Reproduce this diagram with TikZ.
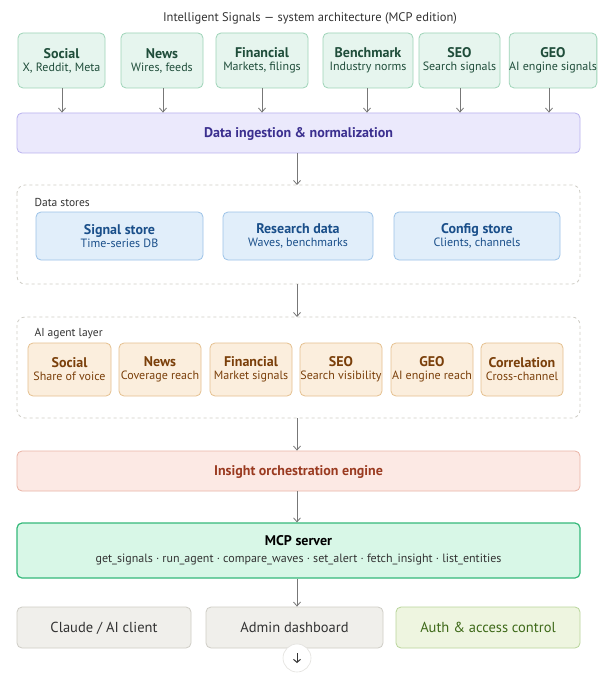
\documentclass[tikz,border=0pt]{standalone}
\usepackage{fontspec}
\setmainfont{PT Sans}
\usetikzlibrary{arrows.meta}
\definecolor{gF}{HTML}{E6F5EE}\definecolor{gS}{HTML}{9ED4B8}\definecolor{gT}{HTML}{1F4D3A}
\definecolor{pF}{HTML}{EBE9FC}\definecolor{pS}{HTML}{B9B2EE}\definecolor{pT}{HTML}{3B2F8F}
\definecolor{bF}{HTML}{E1EEFA}\definecolor{bS}{HTML}{9CC3E8}\definecolor{bT}{HTML}{1A4F8A}
\definecolor{oF}{HTML}{FBEEDD}\definecolor{oS}{HTML}{E5C08F}\definecolor{oT}{HTML}{7A3F0A}
\definecolor{rF}{HTML}{FCE9E4}\definecolor{rS}{HTML}{EAB4A6}\definecolor{rT}{HTML}{9A3A20}
\definecolor{mF}{HTML}{D8F7E7}\definecolor{mS}{HTML}{35B97A}
\definecolor{kF}{HTML}{F0EFEB}\definecolor{kS}{HTML}{CFCDC6}\definecolor{kT}{HTML}{333333}
\definecolor{aF}{HTML}{EEF5E0}\definecolor{aS}{HTML}{B9D59A}\definecolor{aT}{HTML}{3F6A1A}
\definecolor{arr}{HTML}{777777}
\newcommand{\Ttl}{\bfseries\fontsize{14}{16}\selectfont}
\newcommand{\Sub}{\mdseries\fontsize{12}{14}\selectfont}
\tikzset{
 box/.style={draw, rounded corners=5pt, line width=0.8pt, align=center, inner sep=0pt},
 ar/.style={draw=arr, line width=0.8pt, -{Straight Barb[length=4pt,width=7pt]}},
 dashbox/.style={draw=kS, dashed, rounded corners=8pt, line width=0.8pt},
 one/.style={text depth=0pt, text height=9pt},
}
\newcommand{\bx}[8]{% name x1 y1 x2 y2 style title subtitle
 \node[box,#6, minimum width={#4-#2}, minimum height={#5-#3}] (#1) at ({(#2+#4)/2},{(#3+#5)/2}) {#7#8};}
\begin{document}
\begin{tikzpicture}[x=1pt,y=-1pt]
\useasboundingbox[fill=white] (0,0) rectangle (607,676);
\node[font=\fontsize{12.5}{14}\selectfont, text=kT] (title) at (310,18) {Intelligent Signals — system architecture (MCP edition)};
% sources
\tikzset{src/.style={fill=gF,draw=gS,text=gT}}
\bx{s1}{18}{33}{105}{88}{src}{{\Ttl Social}\\[1pt]}{{\Sub X, Reddit, Meta}}
\bx{s2}{121}{33}{203}{88}{src}{{\Ttl News}\\[1pt]}{{\Sub Wires, feeds}}
\bx{s3}{216}{33}{308}{88}{src}{{\Ttl Financial}\\[1pt]}{{\Sub Markets, filings}}
\bx{s4}{323}{33}{413}{88}{src}{{\Ttl Benchmark}\\[1pt]}{{\Sub Industry norms}}
\bx{s5}{419}{33}{500}{88}{src}{{\Ttl SEO}\\[1pt]}{{\Sub Search signals}}
\bx{s6}{511}{33}{595}{88}{src}{{\Ttl GEO}\\[1pt]}{{\Sub AI engine signals}}
\bx{ing}{17}{113}{580}{153}{one,fill=pF,draw=pS,text=pT}{{\Ttl Data ingestion \& normalization}}{}
\foreach \s/\x in {s1/62,s2/163,s3/262,s4/367,s5/460,s6/549}
  \draw[ar] (\s.south -| \x,0) -- (ing.north -| \x,0);
% data stores
\draw[dashbox] (17,185) rectangle (580,284);
\node[anchor=west,font=\fontsize{11.5}{13}\selectfont,text=kT] (dsl) at (31,202) {Data stores};
\coordinate (dsTop) at (297,185); \coordinate (dsBot) at (297,284);
\tikzset{st/.style={fill=bF,draw=bS,text=bT}}
\bx{d1}{36}{212}{203}{260}{st}{{\Ttl Signal store}\\[1pt]}{{\Sub Time-series DB}}
\bx{d2}{223}{212}{373}{260}{st}{{\Ttl Research data}\\[1pt]}{{\Sub Waves, benchmarks}}
\bx{d3}{394}{212}{560}{260}{st}{{\Ttl Config store}\\[1pt]}{{\Sub Clients, channels}}
\draw[ar] (ing.south -| dsTop) -- (dsTop);
% agent layer
\draw[dashbox] (17,317) rectangle (580,418);
\node[anchor=west,font=\fontsize{11.5}{13}\selectfont,text=kT] (agl) at (31,334) {AI agent layer};
\coordinate (agTop) at (297,317); \coordinate (agBot) at (297,418);
\draw[ar] (dsBot) -- (agTop);
\tikzset{ag/.style={fill=oF,draw=oS,text=oT}}
\bx{a1}{28}{343}{111}{396}{ag}{{\Ttl Social}\\[1pt]}{{\Sub Share of voice}}
\bx{a2}{119}{343}{201}{396}{ag}{{\Ttl News}\\[1pt]}{{\Sub Coverage reach}}
\bx{a3}{210}{343}{292}{396}{ag}{{\Ttl Financial}\\[1pt]}{{\Sub Market signals}}
\bx{a4}{300}{343}{382}{396}{ag}{{\Ttl SEO}\\[1pt]}{{\Sub Search visibility}}
\bx{a5}{391}{343}{473}{396}{ag}{{\Ttl GEO}\\[1pt]}{{\Sub AI engine reach}}
\bx{a6}{481}{343}{563}{396}{ag}{{\Ttl Correlation}\\[1pt]}{{\Sub Cross-channel}}
% insight
\bx{ins}{17}{451}{580}{491}{one,fill=rF,draw=rS,text=rT}{{\Ttl Insight orchestration engine}}{}
\draw[ar] (agBot) -- (ins.north -| agBot);
% MCP
\bx{mcp}{17}{523}{580}{578}{fill=mF,draw=mS,line width=1.2pt,text=black}{{\Ttl MCP server}\\[5pt]}{{\Sub\color{kT} get\_signals · run\_agent · compare\_waves · set\_alert · fetch\_insight · list\_entities}}
\draw[ar] (ins.south -| agBot) -- (mcp.north -| agBot);
% bottom
\tikzset{gr/.style={one,fill=kF,draw=kS,text=kT}}
\bx{c1}{17}{607}{191}{648}{gr}{{\fontsize{14.5}{16}\selectfont Claude / AI client}}{}
\bx{c2}{206}{607}{383}{648}{gr}{{\fontsize{14.5}{16}\selectfont Admin dashboard}}{}
\bx{c3}{396}{607}{580}{648}{one,fill=aF,draw=aS,text=aT}{{\fontsize{14.5}{16}\selectfont Auth \& access control}}{}
\draw[ar] (mcp.south -| agBot) -- (c2.north -| agBot);
\node[circle,fill=white,draw=kS!60,line width=0.6pt,minimum size=28pt,inner sep=0pt] (sc) at (297,658) {};
\draw[line width=1pt,kT,-{Straight Barb[length=3pt,width=7pt]}] ([yshift=5pt]sc.center) -- ([yshift=-5pt]sc.center);
\end{tikzpicture}
\end{document}
